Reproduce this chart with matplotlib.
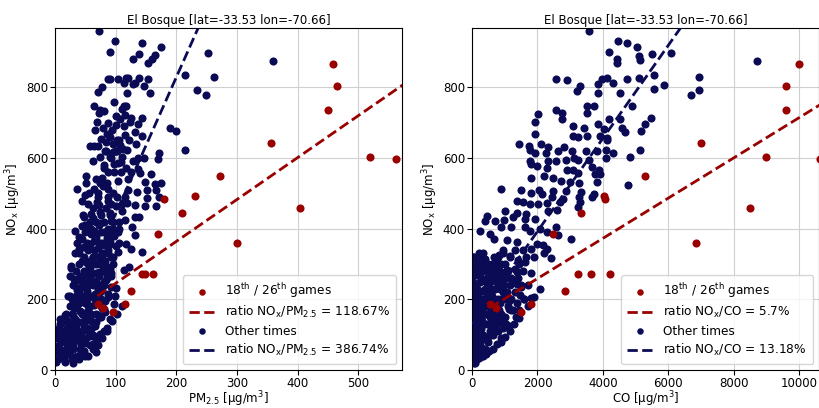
import matplotlib
matplotlib.use('Agg')
import matplotlib.pyplot as plt
import numpy as np

plt.rcParams['mathtext.default'] = 'regular'

# 18th / 26th games (same NOx values in both panels)
games_nox = [866, 805, 736, 642, 602, 598, 549, 492, 485, 446, 460, 384, 359,
             271, 271, 271, 223, 188, 163, 186, 175]
games_pm = [458, 465, 450, 356, 519, 562, 272, 231, 179, 210, 403, 170, 300,
            143, 149, 162, 126, 115, 95, 70, 79]
games_co = [10000, 9597, 9593, 7006, 8982, 10620, 5285, 4033, 4073, 3320, 8483, 2485, 6833,
            3228, 3635, 4216, 2841, 1792, 1487, 550, 733]

# other times, PM2.5 panel
other_pm = [73, 99, 144, 174, 90, 138, 128, 165, 160, 153, 252, 359, 214, 262, 88, 90, 103, 117,
            121, 139, 154, 113, 128, 132, 146, 77, 71, 118, 157, 234, 249, 64, 113, 117, 74, 80,
            116, 126, 144, 72, 69, 107, 124, 136, 79, 100, 132, 190, 199, 144, 116, 85, 84, 102,
            58, 64, 71, 107, 82, 95, 102, 118, 215, 74, 62, 91, 110, 104, 97, 128, 136, 147, 169,
            172, 81, 117, 136, 140, 158, 175, 165, 149, 103, 87, 65, 37, 51, 51, 74, 120, 135, 151,
            166, 151, 172, 149, 166, 115, 102, 71, 69, 45, 49, 87, 72, 132, 101, 118, 91, 110, 59,
            47, 74, 132, 139, 115, 93, 74, 45, 33, 52, 103, 85, 127, 132, 68, 40, 106, 91, 117, 75,
            58, 40, 48, 126, 103, 88, 143, 40, 63, 77, 96, 52, 73, 26, 84, 122, 93, 114, 72, 58, 41,
            32, 25, 68, 84, 52, 101, 77, 37, 22, 47, 66, 88, 98, 99, 30, 52, 80, 41, 16, 8, 33, 57,
            74, 90, 25, 47, 66, 80, 85, 4, 14, 36, 58, 74, 14, 30, 49, 63, 3, 19, 41, 67, 5, 25, 5,
            16, 2, 36, 47, 55,
            45, 55, 62, 70, 60, 50, 65, 75, 80, 58, 68, 62, 48, 55, 70, 78, 65, 45, 60, 75, 85, 50,
            63, 80, 90, 40, 35, 30, 35, 25, 40, 45, 55, 60, 70, 65, 55, 45, 35, 25, 20, 30, 15, 10,
            20, 15, 30, 12, 8, 40, 50, 72, 85, 95, 100, 90, 78, 82, 92, 60, 52, 42, 38, 66, 55, 73,
            77, 62, 68, 58, 38, 28, 10, 3, 6, 18, 22, 28, 33, 48, 58, 72, 88, 96, 105, 110, 95, 85,
            120, 125, 98, 108, 88, 78, 112, 96, 90, 122, 134, 88, 100, 110, 98, 108,
            15, 22, 30, 38, 45, 52, 60, 68, 75, 82, 88, 92, 10, 18, 26, 34, 42, 50, 58, 66, 74, 80,
            86, 90, 35, 43, 51, 59, 67, 75, 83, 28, 36, 44, 52, 60, 68, 76, 84, 92, 40, 48, 56, 64,
            72, 80, 88, 96, 44, 52, 60, 68, 76, 84, 92, 63, 71, 79, 87, 55, 33, 41, 49, 57, 65, 73,
            81, 89, 97, 105, 62, 70, 78, 86, 94, 102, 110, 50, 40, 30, 20, 12, 8, 24, 32, 27, 36, 46,
            56, 68, 80, 92, 100, 106, 114, 84, 76, 66, 94]
other_pm_nox = [961, 932, 925, 915, 901, 896, 880, 891, 880, 868, 899, 874, 836, 831, 823, 823, 823,
                827, 827, 826, 823, 813, 810, 813, 804, 801, 787, 785, 783, 793, 779, 748, 747, 747,
                735, 733, 723, 714, 715, 727, 703, 710, 703, 696, 686, 693, 675, 684, 677, 663, 666,
                669, 647, 650, 635, 635, 634, 638, 619, 617, 619, 624, 624, 602, 592, 602, 602, 585,
                582, 591, 600, 600, 598, 614, 573, 571, 568, 557, 554, 531, 526, 532, 535, 514, 514,
                512, 550, 531, 531, 509, 503, 509, 509, 486, 490, 465, 465, 489, 490, 491, 477, 479,
                495, 490, 467, 468, 465, 473, 446, 451, 442, 433, 447, 433, 433, 426, 423, 416, 407,
                395, 400, 391, 395, 405, 381, 377, 377, 360, 363, 356, 360, 358, 342, 347, 344, 335,
                330, 333, 330, 321, 321, 321, 302, 302, 295, 288, 293, 276, 282, 279, 274, 267, 257,
                265, 251, 255, 237, 232, 228, 226, 209, 211, 206, 206, 186, 209, 190, 188, 172, 167,
                155, 144, 145, 145, 151, 145, 130, 125, 125, 111, 111, 111, 106, 106, 97, 102, 88, 83,
                78, 74, 69, 64, 60, 52, 50, 46, 32, 22, 22, 41, 55, 41,
                250, 260, 240, 230, 210, 190, 185, 200, 250, 290, 300, 320, 320, 340, 345, 330, 365,
                370, 385, 390, 375, 410, 430, 420, 440, 300, 280, 240, 210, 180, 190, 160, 170, 160,
                155, 130, 110, 95, 120, 100, 75, 60, 50, 80, 120, 140, 155, 95, 60, 135, 140, 265,
                270, 300, 350, 380, 280, 310, 265, 270, 225, 235, 255, 215, 205, 240, 175, 100, 85,
                70, 40, 30, 40, 90, 120, 160, 140, 200, 175, 280, 310, 320, 340, 400, 420, 470, 500,
                530, 540, 560, 560, 590, 560, 545, 625, 640, 660, 650, 640, 700, 720, 740, 760, 560,
                30, 45, 70, 85, 110, 120, 140, 160, 180, 195, 215, 235, 55, 90, 115, 140, 165, 150,
                180, 200, 220, 240, 260, 285, 95, 75, 90, 115, 135, 150, 165, 160, 185, 205, 245, 250,
                275, 300, 295, 320, 220, 265, 290, 340, 360, 355, 400, 420, 310, 360, 400, 420, 440,
                460, 470, 460, 500, 520, 480, 470, 330, 345, 390, 420, 395, 410, 390, 355, 380, 400,
                60, 70, 90, 120, 140, 160, 180, 40, 30, 20, 60, 110, 130, 210, 240, 290, 360, 440, 500,
                540, 580, 600, 620, 650, 690, 620, 655, 680, 680]

# other times, CO panel
other_co = [3574, 4450, 4725, 5051, 4185, 6069, 5509, 5112, 5132, 4420, 4420, 8707, 5550, 6925, 2566,
            2912, 4745, 5092, 3961, 4114, 3839, 4318, 3310, 3198, 3839, 4521, 5855, 5550, 6690, 6925,
            4898, 3523, 3727, 2566, 2739, 2739, 2026, 3503, 4185, 4521, 5458, 5295, 5153, 1914, 1914,
            3096, 3859, 3411, 4033, 4593, 4674, 3096, 3248, 3523, 3920, 4114, 4124, 1436, 2118, 1731,
            2332, 2811, 1771, 1935, 2637, 3045, 3482, 3808, 4094, 4318, 5132, 2261, 1771, 1792, 2332,
            2556, 2862, 3126, 3248, 3574, 4094, 4827, 1976, 2301, 2892, 3096, 3248, 3656, 3880, 3758,
            3910, 2200, 1802, 2485, 2709, 2984, 3279, 3829, 4765, 886, 1497, 2037, 2485, 2862, 3330,
            3737, 3656, 3279, 2790, 2434, 2128, 1792, 1385, 1548, 1772, 2006, 2281, 2688, 3310, 3248,
            2312, 2587, 1018, 1385, 1650, 1925, 1619, 1263, 977, 703, 397, 468, 244, 550, 876, 1181,
            1619, 2077, 2281, 1772, 2556, 2637, 3024, 682, 1059, 1385, 1976, 2159, 2301, 1792, 1568,
            1314, 957, 2200, 1894, 1619, 1415, 1161, 835, 2403, 1792, 1385, 1059, 1365, 1487, 2077,
            1894, 1466, 1140, 1446, 1130, 876, 835,
            50, 80, 100, 120, 60, 150, 200, 100, 250, 50, 300, 150, 350, 100, 200, 400, 50, 250, 450,
            150, 350, 100, 500, 200, 50, 300, 150, 250, 350, 200, 450, 300, 550, 400, 650, 500, 250,
            600, 450, 700, 800, 550, 650, 750, 900, 850, 700, 600, 400, 950, 1000, 1100, 850, 750,
            900, 1000, 1200, 1300, 1150, 1250, 1350, 1450, 1050, 950, 800, 650, 500, 400, 300, 200,
            100, 30, 20, 40, 30, 60, 350, 450, 550, 700, 600, 850, 1200, 1100, 1000, 800, 350, 250,
            150, 80, 180, 500, 900, 700, 1600, 1700, 1550, 1450, 1650,
            20, 25, 30, 35, 40, 45, 50, 55, 20, 30, 40, 60,
            120, 150, 180, 210, 240, 270, 300, 130, 160, 190, 220, 250, 280, 110, 140, 170, 200, 230,
            260, 290, 320, 350, 380, 410, 330, 360,
            400, 430, 460, 490, 520, 550, 580, 610, 640, 670, 700, 420, 480, 540, 600, 660, 720, 760,
            780, 820, 860, 880, 920, 980, 1040, 1080, 1120, 1180, 1260, 1320, 1400, 1500, 1580, 1700,
            1800, 1380, 1280, 1150, 1000, 880, 760, 640, 520, 420, 320, 220, 120, 70, 90, 110, 370,
            470, 570, 670, 770, 950, 1150]
other_co_nox = [961, 932, 925, 915, 901, 899, 894, 890, 878, 880, 868, 874, 836, 831, 824, 821, 824,
                826, 824, 827, 810, 812, 804, 789, 785, 783, 808, 795, 779, 793, 747, 748, 747, 736,
                727, 711, 724, 727, 712, 712, 715, 696, 677, 703, 668, 692, 696, 686, 683, 684, 675,
                664, 660, 663, 663, 656, 650, 639, 639, 633, 631, 631, 624, 614, 619, 621, 621, 621,
                624, 614, 624, 614, 593, 582, 591, 593, 594, 600, 596, 595, 600, 602, 577, 573, 566,
                566, 559, 574, 565, 556, 554, 550, 545, 545, 535, 532, 529, 533, 524, 512, 509, 509,
                507, 507, 504, 498, 491, 489, 484, 489, 498, 501, 479, 477, 470, 470, 472, 477, 477,
                463, 451, 454, 451, 444, 442, 428, 428, 433, 425, 421, 421, 437, 395, 386, 405, 405,
                405, 400, 391, 395, 405, 381, 372, 372, 367, 363, 358, 353, 344, 344, 339, 339, 339,
                330, 321, 307, 311, 323, 325, 316, 276, 279, 283, 244, 242, 229, 207, 213, 172, 148,
                125, 92, 134,
                30, 50, 70, 90, 100, 120, 140, 150, 160, 170, 180, 190, 200, 210, 220, 230, 240, 250,
                260, 270, 280, 290, 300, 310, 320, 320, 60, 80, 100, 110, 130, 140, 150, 160, 170, 180,
                200, 210, 220, 230, 240, 250, 270, 260, 250, 280, 300, 290, 300, 220, 200, 180, 190,
                160, 160, 150, 200, 220, 240, 170, 150, 170, 130, 120, 110, 100, 80, 60, 50, 40, 20,
                60, 120, 200, 280, 60, 40, 90, 110, 130, 130, 140, 260, 280, 300, 320, 330, 290, 230,
                180, 300, 240, 200, 190, 200, 240, 280, 300, 320,
                40, 80, 110, 150, 190, 230, 270, 300, 170, 250, 320, 20,
                50, 75, 105, 130, 165, 190, 225, 240, 275, 305, 330, 295, 260, 200, 180, 150, 90, 70,
                115, 140, 170, 255, 285, 315, 95, 130,
                160, 190, 215, 280, 130, 100, 170, 230, 260, 150, 120, 250, 180, 205, 300, 320, 280,
                250, 200, 170, 230, 300, 270, 240, 260, 220, 195, 170, 250, 285, 260, 235, 200, 180,
                205, 190, 130, 110, 95, 80, 75, 60, 55, 45, 40, 35, 28, 130, 210, 280, 60,
                85, 135, 200, 300, 330, 320]

# fitted lines: slope, intercept, x start, x end
fit_pm_games = [1.1867, 127, 70, 600]
fit_pm_other = [3.8674, 56, 5, 300]
fit_co_games = [0.057, 145, 550, 11000]
fit_co_other = [0.1318, 129, 0, 7000]

red = '#990000'
navy = '#0a0a55'
title = 'El Bosque [lat=-33.53 lon=-70.66]'

fig = plt.figure(figsize=(8.19, 4.08), dpi=100)
ax1 = fig.add_axes([0.0672, 0.093, 0.4237, 0.838])
ax2 = fig.add_axes([0.5763, 0.093, 0.4237, 0.838])

panels = [
    (ax1, other_pm, other_pm_nox, games_pm, fit_pm_games, fit_pm_other, 'PM$_{2.5}$', 572),
    (ax2, other_co, other_co_nox, games_co, fit_co_games, fit_co_other, 'CO', 10600),
]

for ax, ox, oy, gx, fg, fo, name, xmax in panels:
    ax.grid(True, color='#d0d0d0', linewidth=0.8, zorder=0)
    ax.set_axisbelow(True)
    hb = ax.scatter(ox, oy, s=34, color=navy, zorder=2, linewidths=0)
    hr = ax.scatter(gx, games_nox, s=34, color=red, zorder=3, linewidths=0)
    xr = np.array(fg[2:])
    lr, = ax.plot(xr, fg[0] * xr + fg[1], '--', color=red, linewidth=2, zorder=4)
    xb = np.array(fo[2:])
    lb, = ax.plot(xb, fo[0] * xb + fo[1], '--', color=navy, linewidth=2, zorder=4)
    ax.set_xlim(0, xmax)
    ax.set_ylim(0, 968)
    ax.set_title(title, fontsize=8.5, pad=3)
    ax.set_xlabel(name + ' [μg/m$^3$]', fontsize=8.5, labelpad=-0.5)
    ax.set_ylabel('NO$_x$ [μg/m$^3$]', fontsize=8.5, labelpad=2)
    ax.tick_params(labelsize=8.5, pad=1.5)
    ax.set_yticks([0, 200, 400, 600, 800])
    ax.legend([hr, lr, hb, lb],
              ['18$^{th}$ / 26$^{th}$ games',
               'ratio NO$_x$/' + name + ' = ' + ('118.67%' if xmax < 1000 else '5.7%'),
               'Other times',
               'ratio NO$_x$/' + name + ' = ' + ('386.74%' if xmax < 1000 else '13.18%')],
              loc='lower right', fontsize=8.7, handlelength=2.2, borderpad=0.5,
              labelspacing=0.35, framealpha=0.8, markerscale=0.8)

ax2.set_xticks([0, 2000, 4000, 6000, 8000, 10000])

fig.savefig('out.png', dpi=100)
